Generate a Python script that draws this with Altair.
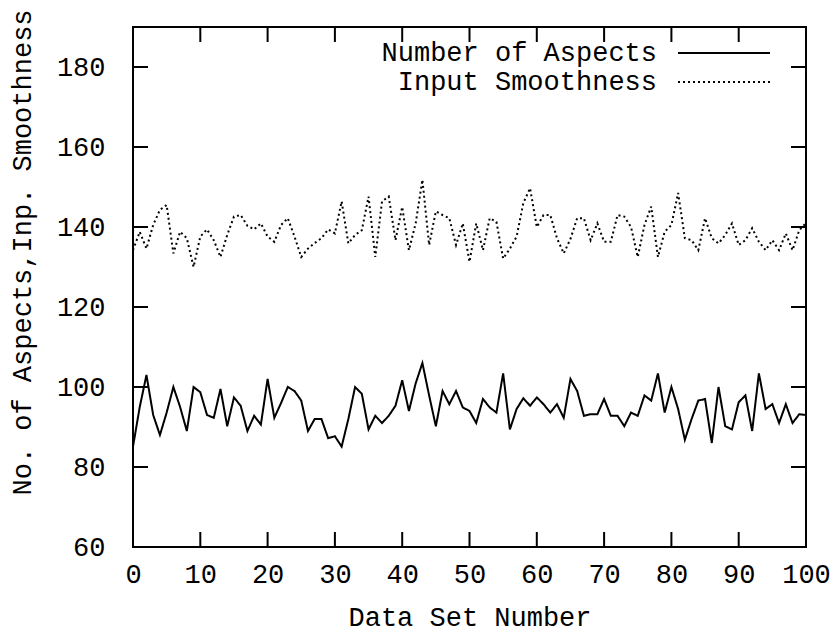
import altair as alt
import pandas as pd

# ---------------- data ----------------
data_set = list(range(101))
aspects = [
    85.1, 95.0, 103.0, 93.0, 88.0, 93.6, 100.0, 95.0, 89.0, 100.0,
    98.7, 93.0, 92.3, 99.5, 90.2, 97.4, 95.3, 89.0, 92.8, 90.6,
    102.0, 92.3, 96.0, 100.0, 99.0, 96.6, 89.0, 92.0, 92.0, 87.2,
    87.7, 85.1, 92.0, 100.0, 98.3, 89.4, 92.8, 91.0, 92.8, 95.3,
    101.7, 94.0, 100.9, 106.0, 97.9, 90.2, 99.0, 95.7, 99.0, 94.9,
    94.0, 91.0, 97.0, 94.9, 93.6, 103.4, 89.4, 94.5, 97.2, 95.3,
    97.4, 95.7, 93.6, 95.7, 92.3, 102.0, 99.0, 92.8, 93.2, 93.2,
    97.0, 92.8, 92.8, 90.2, 93.6, 92.8, 97.9, 96.6, 103.4, 93.6,
    100.0, 94.5, 86.8, 92.0, 96.6, 97.0, 86.0, 100.0, 90.2, 89.4,
    96.2, 97.9, 89.0, 103.4, 94.5, 95.7, 91.0, 95.7, 91.0, 93.2,
    93.0,
]
smoothness = [
    134.2, 138.8, 134.6, 140.5, 144.3, 145.5, 133.4, 138.8, 137.2, 130.0,
    137.6, 139.4, 136.7, 132.5, 138.0, 142.6, 143.0, 140.3, 139.4, 140.9,
    137.6, 136.3, 140.5, 142.2, 137.6, 132.5, 134.6, 136.0, 137.2, 139.4,
    138.4, 146.4, 135.9, 138.0, 139.2, 147.6, 132.5, 146.4, 147.6, 136.7,
    145.0, 134.2, 140.9, 151.8, 135.5, 143.9, 143.0, 142.2, 135.5, 140.9,
    131.3, 140.9, 134.2, 142.2, 141.3, 132.1, 134.6, 137.6, 146.0, 149.7,
    140.0, 143.0, 143.0, 137.2, 133.4, 137.0, 142.2, 142.2, 136.7, 140.9,
    136.3, 136.3, 143.0, 142.6, 140.0, 132.5, 140.5, 145.1, 132.5, 138.8,
    140.5, 148.5, 137.2, 136.7, 134.2, 142.2, 137.2, 135.9, 138.0, 140.9,
    135.5, 136.7, 139.7, 136.3, 134.2, 136.7, 134.2, 138.4, 134.2, 139.2,
    141.0,
]
x_ticks = [0, 10, 20, 30, 40, 50, 60, 70, 80, 90, 100]
y_ticks = [60, 80, 100, 120, 140, 160, 180]
series_names = ["Number of Aspects", "Input Smoothness"]
x_title = "Data Set Number"
y_title = "No. of Aspects,Inp. Smoothness"

# ---------------- style ----------------
FONT = "Liberation Mono"
FS = 27
W, H = 673, 520
DASHES = [[1, 0], [2, 3]]

df = pd.DataFrame({"x": data_set, series_names[0]: aspects, series_names[1]: smoothness})
long = df.melt("x", var_name="series", value_name="value")

xscale = alt.Scale(domain=[0, 100], nice=False, zero=False)
yscale = alt.Scale(domain=[60, 190], nice=False, zero=False)
dash_scale = alt.Scale(domain=series_names, range=DASHES)

lines = alt.Chart(long).mark_line(color="black", strokeWidth=2, clip=True).encode(
    x=alt.X("x:Q", scale=xscale, axis=alt.Axis(
        values=x_ticks, ticks=False, tickSize=0, domain=False, grid=False,
        labelFlush=False, labelOverlap=False,
        labelFont=FONT, labelFontSize=FS, labelColor="black", labelPadding=14,
        title=x_title, titleFont=FONT, titleFontSize=FS, titleFontWeight="normal",
        titleColor="black", titleY=70, titleBaseline="middle")),
    y=alt.Y("value:Q", scale=yscale, axis=alt.Axis(
        values=y_ticks, ticks=False, tickSize=0, domain=False, grid=False,
        labelFlush=False, labelOverlap=False, offset=8,
        labelFont=FONT, labelFontSize=FS, labelColor="black", labelPadding=20,
        title=y_title, titleFont=FONT, titleFontSize=FS, titleFontWeight="normal",
        titleColor="black", titleX=-103, titleY=225, titleAngle=270,
        titleAlign="center", titleBaseline="middle")),
    strokeDash=alt.StrokeDash("series:N", scale=dash_scale, legend=None),
    detail="series:N",
)

xt = pd.DataFrame({"t": x_ticks})
yt = pd.DataFrame({"t": y_ticks})
tick_style = dict(color="black", thickness=2, size=30, clip=True, opacity=1)

xb = alt.Chart(xt).mark_tick(orient="vertical", **tick_style).encode(
    x=alt.X("t:Q", scale=xscale), y=alt.value(H))
xtop = alt.Chart(xt).mark_tick(orient="vertical", **tick_style).encode(
    x=alt.X("t:Q", scale=xscale), y=alt.value(0))
yl = alt.Chart(yt).mark_tick(orient="horizontal", **tick_style).encode(
    y=alt.Y("t:Q", scale=yscale), x=alt.value(0))
yr = alt.Chart(yt).mark_tick(orient="horizontal", **tick_style).encode(
    y=alt.Y("t:Q", scale=yscale), x=alt.value(W))

# legend (gnuplot style: label then sample line, top right inside the frame)
leg_layers = []
for k, name in enumerate(series_names):
    ly = 26 + 29 * k
    leg_df = pd.DataFrame({"label": [name]})
    leg_layers.append(
        alt.Chart(leg_df).mark_text(font=FONT, fontSize=FS, align="right",
                                    baseline="middle", color="black").encode(
            text="label:N", x=alt.value(524), y=alt.value(ly))
    )
    leg_layers.append(
        alt.Chart(leg_df).mark_rule(color="black", strokeWidth=2,
                                    strokeDash=DASHES[k]).encode(
            x=alt.value(545), x2=alt.value(637), y=alt.value(ly))
    )

chart = alt.layer(lines, xb, xtop, yl, yr, *leg_layers).properties(
    width=W, height=H,
    autosize=alt.AutoSizeParams(type="none"),
    padding={"left": 133, "top": 27, "right": 30, "bottom": 88},
    background="white",
).configure_view(stroke="black", strokeWidth=2)

chart.save("out.html", embed_options={"renderer": "svg", "actions": False})
